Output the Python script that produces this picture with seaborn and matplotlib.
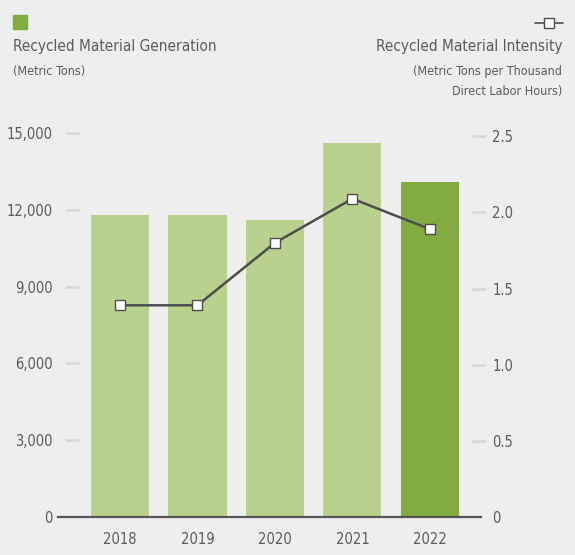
import numpy as np
import pandas as pd
import matplotlib.pyplot as plt
import matplotlib.transforms as mtransforms
import seaborn as sns

years = ["2018", "2019", "2020", "2021", "2022"]
generation = [11800, 11800, 11600, 14600, 13100]
intensity = [1.39, 1.39, 1.80, 2.09, 1.89]
bar_colors = ["#b8d28d", "#b8d28d", "#b8d28d", "#b8d28d", "#82ab40"]
left_ticks = [0, 3000, 6000, 9000, 12000, 15000]
right_ticks = [0, 0.5, 1.0, 1.5, 2.0, 2.5]

BG = "#eeeeee"
TXT = "#5b5b5c"

sns.set_theme(style="white")
plt.rcParams["font.family"] = ["DejaVu Sans"]
plt.rcParams["font.stretch"] = "condensed"

fig = plt.figure(figsize=(5.75, 5.55), dpi=100, facecolor=BG)
ax = fig.add_axes([58 / 575, 1 - 517 / 555, 423 / 575, 407 / 555])
ax.set_facecolor(BG)

df = pd.DataFrame({"year": years, "value": generation})
sns.barplot(data=df, x="year", y="value", hue="year", palette=bar_colors,
            legend=False, width=0.75, saturation=1, linewidth=0, ax=ax)

ax.set_xlim(-0.8, 4.66)
ax.set_ylim(0, 407 / 25.6 * 1000)
ax.set_yticks(left_ticks)
ax.set_yticklabels([f"{v:,}" for v in left_ticks])
ax.set_xlabel("")
ax.set_ylabel("")
for s in ["top", "left", "right"]:
    ax.spines[s].set_visible(False)
ax.spines["bottom"].set_color("#555555")
ax.spines["bottom"].set_linewidth(1.6)
ax.tick_params(axis="both", length=0, labelsize=10.5, colors=TXT)
ax.tick_params(axis="y", pad=4)
ax.tick_params(axis="x", pad=11)

tr = mtransforms.blended_transform_factory(ax.transAxes, ax.transData)
ax.hlines(left_ticks[1:], 0.0165, 0.052, transform=tr, color="#d9d9d9",
          linewidth=2, clip_on=False)

ax2 = ax.twinx()
ax2.set_ylim(0, 407 / 152.3)
ax2.set_yticks(right_ticks)
ax2.set_yticklabels(["0" if v == 0 else f"{v:.1f}" for v in right_ticks])
for s in ["top", "left", "right", "bottom"]:
    ax2.spines[s].set_visible(False)
ax2.tick_params(axis="y", length=0, labelsize=10.5, colors=TXT, pad=8)

tr2 = mtransforms.blended_transform_factory(ax2.transAxes, ax2.transData)
ax2.hlines(right_ticks[1:], 0.976, 1.012, transform=tr2, color="#d9d9d9",
           linewidth=2, clip_on=False)

sns.lineplot(x=np.arange(len(years)), y=intensity, ax=ax2, color="#4d4d4f",
             linewidth=1.8, marker="s", markersize=6.5, markerfacecolor="white",
             markeredgecolor="#4d4d4f", markeredgewidth=1)
ax2.set_ylabel("")

# header legends
fig.patches.append(plt.Rectangle((13 / 575, 1 - 29 / 555), 14 / 575, 14 / 555,
                                 transform=fig.transFigure, color="#82ab40"))
fig.text(13 / 575, 1 - 47 / 555, "Recycled Material Generation", ha="left",
         va="center", fontsize=11, color=TXT)
fig.text(13 / 575, 1 - 71 / 555, "(Metric Tons)", ha="left", va="center",
         fontsize=9, color=TXT)

fig.lines.append(plt.Line2D([535 / 575, 563 / 575], [1 - 23 / 555, 1 - 23 / 555],
                            transform=fig.transFigure, color="#4d4d4f",
                            linewidth=1.2))
fig.lines.append(plt.Line2D([549 / 575], [1 - 23 / 555], transform=fig.transFigure,
                            marker="s", markersize=6.5, markerfacecolor="white",
                            markeredgecolor="#4d4d4f", markeredgewidth=1))
fig.text(562 / 575, 1 - 47 / 555, "Recycled Material Intensity", ha="right",
         va="center", fontsize=11, color=TXT)
fig.text(562 / 575, 1 - 72 / 555, "(Metric Tons per Thousand", ha="right",
         va="center", fontsize=9, color=TXT)
fig.text(562 / 575, 1 - 91 / 555, "Direct Labor Hours)", ha="right",
         va="center", fontsize=9, color=TXT)

fig.savefig("out.png", dpi=100, facecolor=BG)
